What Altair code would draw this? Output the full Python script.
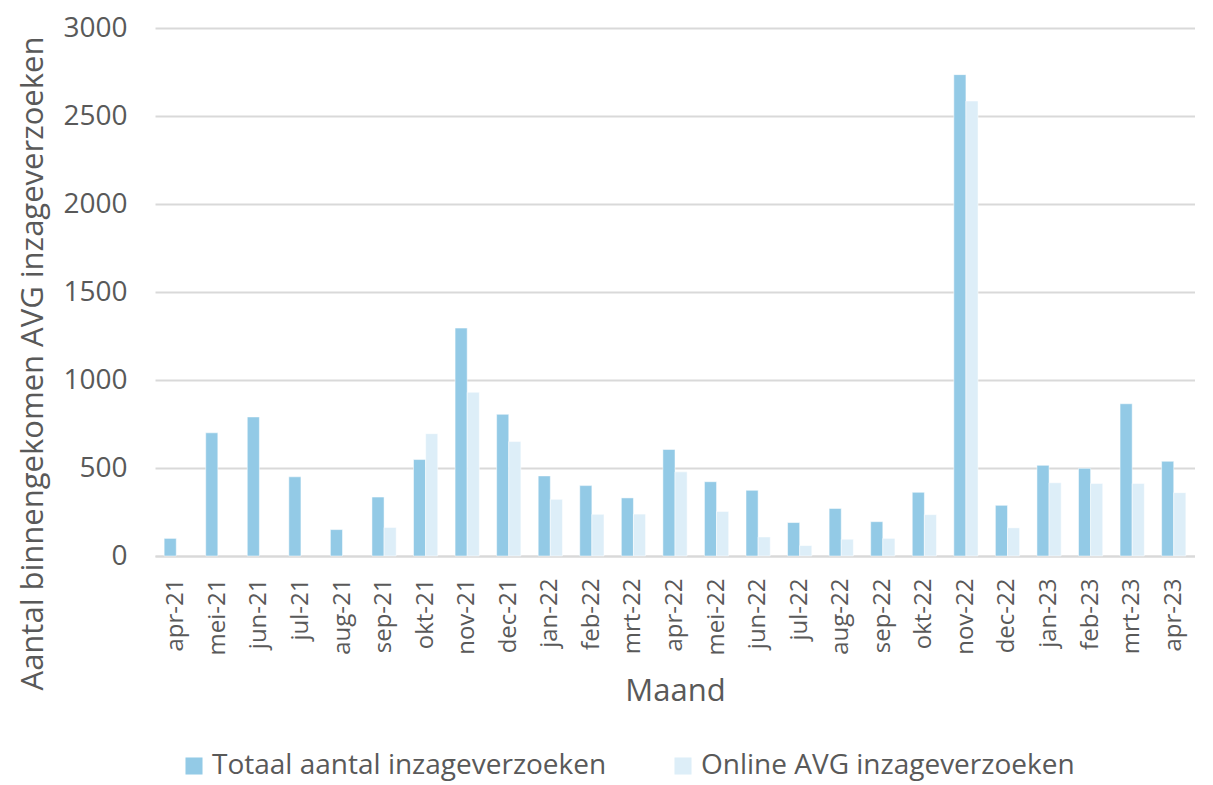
import altair as alt
import pandas as pd

months = ["apr-21", "mei-21", "jun-21", "jul-21", "aug-21", "sep-21", "okt-21", "nov-21",
          "dec-21", "jan-22", "feb-22", "mrt-22", "apr-22", "mei-22", "jun-22", "jul-22",
          "aug-22", "sep-22", "okt-22", "nov-22", "dec-22", "jan-23", "feb-23", "mrt-23", "apr-23"]
totaal = [100, 700, 790, 450, 150, 335, 548, 1295, 805, 455, 400, 330, 605, 422, 373, 190,
          270, 195, 362, 2735, 288, 515, 498, 865, 538]
online = [None, None, None, None, None, 162, 695, 930, 650, 322, 237, 238, 478, 253, 108, 59,
          95, 100, 235, 2585, 160, 416, 412, 412, 360]
series = ["Totaal aantal inzageverzoeken", "Online AVG inzageverzoeken"]
colors = ["#93cae6", "#ddeef8"]

rows = []
for m, t, o in zip(months, totaal, online):
    rows.append({"Maand": m, "Reeks": series[0], "Aantal": t})
    if o is not None:
        rows.append({"Maand": m, "Reeks": series[1], "Aantal": o})
df = pd.DataFrame(rows)

FONT = "Open Sans"
GREY = "#595959"

chart = alt.Chart(df).mark_bar(stroke="white", strokeOpacity=0.5, strokeWidth=1).encode(
    x=alt.X("Maand:N", sort=months,
            scale=alt.Scale(paddingInner=0.417, paddingOuter=0.22),
            axis=alt.Axis(title="Maand", labelAngle=270, labelFontSize=24, labelFont=FONT,
                          labelColor=GREY, ticks=False, domainColor="#d9d9d9", domainWidth=2,
                          labelPadding=22, titleFont=FONT, titleFontSize=31,
                          titleFontWeight="normal", titleColor=GREY, titlePadding=22)),
    xOffset=alt.XOffset("Reeks:N", sort=series, scale=alt.Scale(paddingInner=0, paddingOuter=0)),
    y=alt.Y("Aantal:Q", scale=alt.Scale(domain=[0, 3000]),
            axis=alt.Axis(title="Aantal binnengekomen AVG inzageverzoeken",
                          values=[0, 500, 1000, 1500, 2000, 2500, 3000], format="d",
                          labelFontSize=28, labelFont=FONT, labelColor=GREY, ticks=False,
                          domain=False, gridColor="#d9d9d9", gridWidth=2, labelPadding=28,
                          titleFont=FONT, titleFontSize=31, titleFontWeight="normal",
                          titleColor=GREY, titleAngle=270, titleAlign="center",
                          titleBaseline="middle", titleX=-122, titleY=335)),
    color=alt.Color("Reeks:N", scale=alt.Scale(domain=series, range=colors),
                    legend=alt.Legend(title=None, orient="none", direction="horizontal",
                                      legendX=25, legendY=724, columns=2, columnPadding=62,
                                      symbolType="square", symbolSize=290, symbolStrokeWidth=0,
                                      labelFont=FONT, labelFontSize=28, labelColor=GREY,
                                      labelBaseline="middle", labelLimit=600, symbolOffset=0)),
).properties(width=1040, height=528,
             padding={"left": 8, "top": 6, "right": 0, "bottom": 10}).configure_view(stroke=None)

chart.save("out.html", embed_options={"renderer": "svg", "actions": False})
